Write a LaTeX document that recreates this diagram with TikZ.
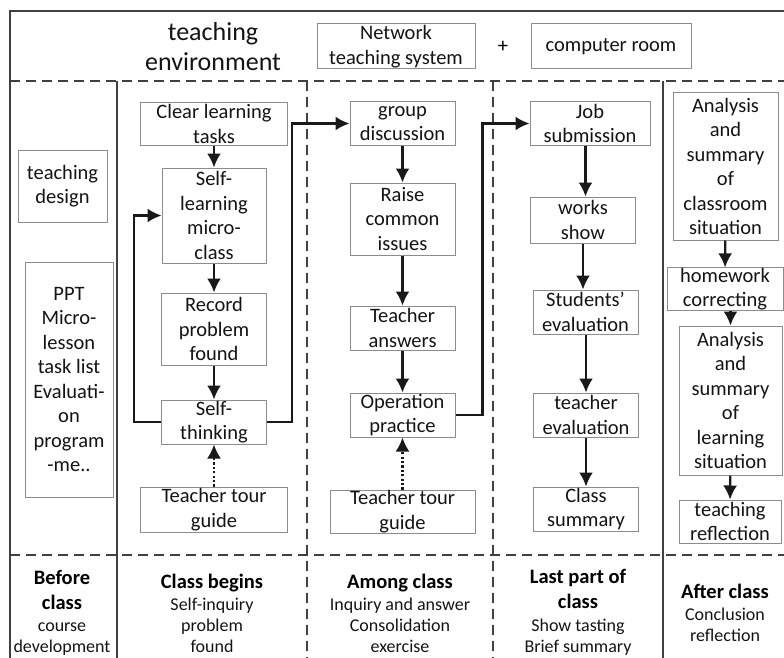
\documentclass[tikz,border=0pt]{standalone}
\usepackage{fontspec}
\setmainfont{Carlito}
\usetikzlibrary{positioning}
\usetikzlibrary{arrows.meta}

\begin{document}
\begin{tikzpicture}[
x=1pt, y=-1pt,
box/.style={draw=black!45, line width=1pt, fill=white, align=center, inner sep=0pt, text=black!92, font=\fontsize{20.5}{24.5}\selectfont},
arr/.style={draw=black!90, line width=2.2pt, -{Latex[length=14pt,width=14pt]}},
dotarr/.style={arr, dash pattern=on 2.2pt off 2.2pt},
rule/.style={draw=black!75, line width=1.8pt},
drule/.style={rule, dash pattern=on 10pt off 6pt},
head/.style={align=center, inner sep=0pt, text=black, font=\fontsize{20.5}{25}\selectfont\bfseries},
sub/.style={align=center, inner sep=0pt, text=black!92, font=\fontsize{18}{21}\selectfont}
]
\useasboundingbox (0,0) rectangle (784,658);
\clip (0,0) rectangle (784,658);

% frame and grid
\draw[rule] (10,11) rectangle (800,700);
\draw[drule] (10,81) -- (800,81);
\draw[drule] (10,555) -- (800,555);
\draw[rule] (117,81) -- (117,700);
\draw[drule] (307,81) -- (307,700);
\draw[drule] (493,81) -- (493,700);
\draw[rule] (663,81) -- (663,700);

% teaching environment
\node[align=center, inner sep=0pt, text=black!92, font=\fontsize{26}{30}\selectfont] (env) at (213,47) {teaching\\environment};
\node[box, minimum width=158pt, minimum height=45pt] (net) at (396,46.5) {Network\\teaching system};
\node[inner sep=0pt, font=\fontsize{20.5}{24}\selectfont] (plus) at (503,47) {+};
\node[box, minimum width=160pt, minimum height=45pt] (room) at (611,46.5) {computer room};

% before class
\node[box, minimum width=89pt, minimum height=72pt] (design) at (62.5,186) {teaching\\design};
\node[box, minimum width=88pt, minimum height=235pt] (ppt) at (69,379.5) {PPT\\Micro-\\lesson\\task list\\Evaluati-\\on\\program\\-me..};

% class begins
\node[box, minimum width=147pt, minimum height=42pt] (clear) at (214,124) {Clear learning\\tasks};
\node[box, minimum width=104pt, minimum height=95pt] (selfl) at (214,215.5) {Self-\\learning\\micro-\\class};
\node[box, minimum width=105pt, minimum height=72pt] (record) at (214,329) {Record\\problem\\found};
\node[box, minimum width=105pt, minimum height=44pt] (selft) at (214,422) {Self-\\thinking};
\node[box, minimum width=147pt, minimum height=45pt] (tour1) at (214,509.5) {Teacher tour\\guide};

% among class
\node[box, minimum width=105pt, minimum height=43pt] (group) at (402.5,123.5) {group\\discussion};
\node[box, minimum width=105pt, minimum height=72pt] (raise) at (402.5,219) {Raise\\common\\issues};
\node[box, minimum width=105pt, minimum height=44pt] (answer) at (402.5,328) {Teacher\\answers};
\node[box, minimum width=105pt, minimum height=44pt] (oper) at (402.5,415) {Operation\\practice};
\node[box, minimum width=145pt, minimum height=43pt] (tour2) at (402.5,511.5) {Teacher tour\\guide};

% last part of class
\node[box, minimum width=120pt, minimum height=43pt] (job) at (590,123.5) {Job\\submission};
\node[box, minimum width=105pt, minimum height=46pt] (works) at (583,220) {works\\show};
\node[box, minimum width=105pt, minimum height=44pt] (steval) at (585.5,312) {Students'\\evaluation};
\node[box, minimum width=105pt, minimum height=44pt] (teval) at (586,415) {teacher\\evaluation};
\node[box, minimum width=105pt, minimum height=44pt] (summ) at (586,509) {Class\\summary};

% after class
\node[box, minimum width=105pt, minimum height=147pt] (anal1) at (725.5,166.5) {Analysis\\and\\summary\\of\\classroom\\situation};
\node[box, minimum width=116pt, minimum height=42pt] (homework) at (725,289) {homework\\correcting};
\node[box, minimum width=103pt, minimum height=149pt] (anal2) at (730.5,400.5) {Analysis\\and\\summary\\of\\learning\\situation};
\node[box, minimum width=102pt, minimum height=43pt] (reflect) at (730,521.5) {teaching\\reflection};

% arrows
\draw[arr] (clear.south -| selfl.north) -- (selfl.north);
\draw[arr] (selfl) -- (record);
\draw[arr] (record) -- (selft);
\draw[dotarr] (tour1) -- (selft);
\draw[arr] (selft.west) -- ++(-27,0) |- (selfl.west);
\draw[arr] (selft.east) -- ++(25,0) |- (group.west);

\draw[arr] (group) -- (raise);
\draw[arr] (raise) -- (answer);
\draw[arr] (answer) -- (oper);
\draw[dotarr] (tour2) -- (oper);
\draw[arr] (oper.east) -- ++(27,0) |- (job.west);

\draw[arr] (job.south -| steval.north) -- (works.north -| steval.north);
\draw[arr] (works.south -| 583,0) -- (steval.north -| 583,0);
\draw[arr] (steval.south -| teval.north) -- (teval.north);
\draw[arr] (teval) -- (summ);

\draw[arr] (anal1) -- (homework);
\draw[arr] (homework.south -| anal2.north) -- (anal2.north);
\draw[arr] (anal2) -- (reflect);

% phases
\node[head] (bhead) at (62,592) {\strut Before\\class\strut};
\node[sub, below=-1pt of bhead] (bsub) {\strut course\\development};
\node[head] (chead) at (212,583) {\strut Class begins\strut};
\node[sub, below=0pt of chead] (csub) {\strut Self-inquiry\\problem\\found};
\node[head] (ahead) at (400,583) {\strut Among class\strut};
\node[sub, below=0pt of ahead] (asub) {\strut Inquiry and answer\\Consolidation\\exercise};
\node[head] (lhead) at (578,591) {\strut Last part of\\class\strut};
\node[sub, below=0pt of lhead] (lsub) {\strut Show tasting\\Brief summary};
\node[head] (fhead) at (725,593) {\strut After class\strut};
\node[sub, below=0pt of fhead] (fsub) {\strut Conclusion\\reflection};
\end{tikzpicture}
\end{document}
